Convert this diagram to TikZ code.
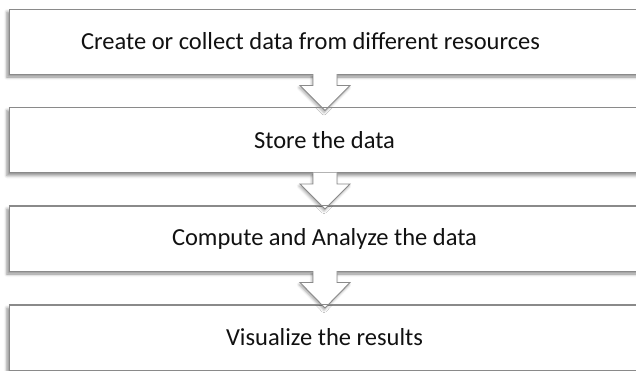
\documentclass[tikz,border=0pt]{standalone}
\usepackage{fontspec}
\setmainfont{Carlito}
\usetikzlibrary{calc,shadows.blur}
\definecolor{edge}{HTML}{8A8A8A}
\definecolor{ink}{HTML}{111111}
\tikzset{
  stepbox/.style={draw=edge, line width=1pt, fill=white, minimum width=631pt, minimum height=65pt,
    inner sep=0pt, font=\fontsize{24.5}{28}\selectfont, text=ink,
    blur shadow={shadow xshift=-2pt, shadow yshift=-3pt, shadow blur radius=3pt, shadow opacity=45}},
  flowarrow/.style={draw=edge, line width=0.9pt, fill=white, line join=miter,
    blur shadow={shadow xshift=-1pt, shadow yshift=-2pt, shadow blur radius=2.5pt, shadow opacity=35}},
  topline/.style={draw=edge, line width=1pt}
}
\begin{document}
\begin{tikzpicture}[x=1pt,y=1pt]
\useasboundingbox (0,0) rectangle (636,-370);
\clip (0,0) rectangle (636,-370);
\node[stepbox] (b1) at (324.5,-41.5) {\raisebox{-1.5pt}{\hspace*{-28pt}Create or collect data from different resources}};
\node[stepbox] (b2) at (324.5,-140) {\raisebox{-1.5pt}{Store the data}};
\node[stepbox] (b3) at (324.5,-238.5) {\raisebox{-1.5pt}{Compute and Analyze the data}};
\node[stepbox] (b4) at (324.5,-337.5) {\raisebox{-1.5pt}{Visualize the results}};
\foreach \a/\b in {b1/b2,b2/b3,b3/b4}{
  \coordinate (s) at ($(\a.south)+(0.5,0)$);
  \coordinate (t) at ($(\b.north)+(0.5,-3.5)$);
  \path[flowarrow] ($(s)+(-12,0.5)$) -- ($(s)+(-12,-11)$) -- ($(s)+(-25,-11)$) -- (t)
     -- ($(s)+(25,-11)$) -- ($(s)+(12,-11)$) -- ($(s)+(12,0.5)$);
  \draw[topline] (\b.north west) -- (\b.north east);
}
\end{tikzpicture}
\end{document}
